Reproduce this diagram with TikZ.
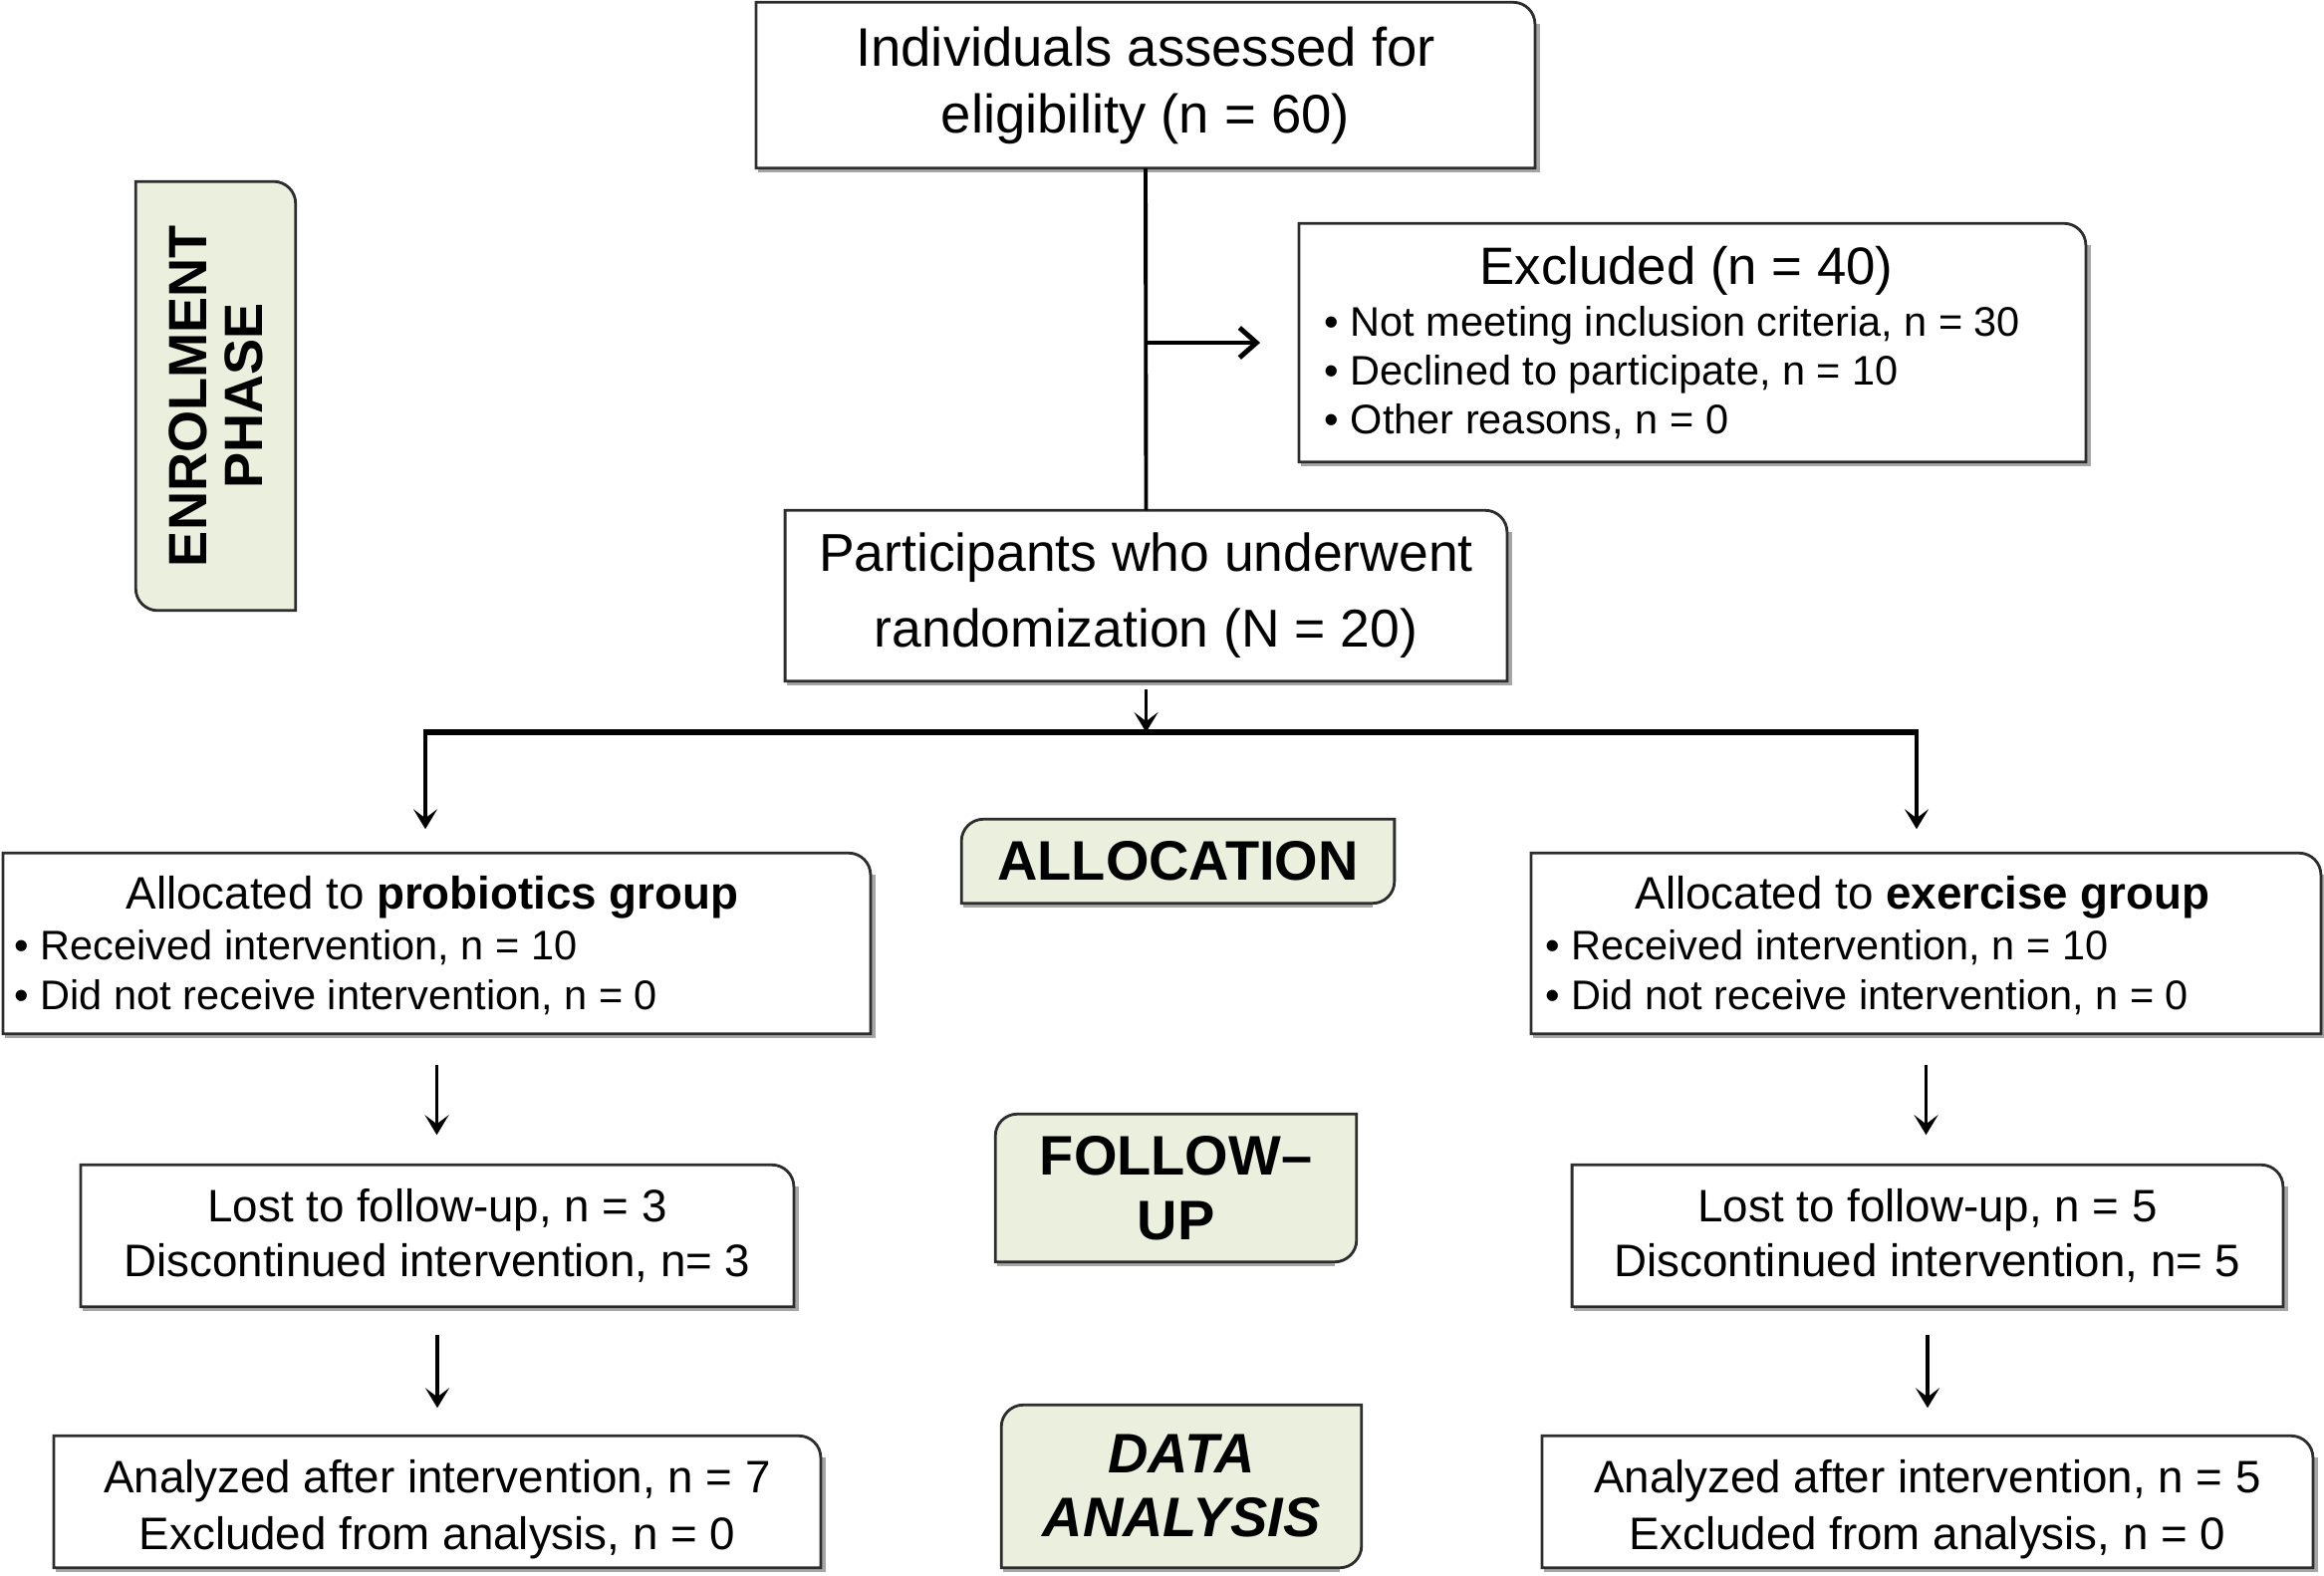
\documentclass[tikz,border=0pt]{standalone}
\usepackage{fontspec}
\setmainfont{Liberation Sans}
\usetikzlibrary{arrows.meta,calc,backgrounds}
\definecolor{phasefill}{RGB}{235,239,222}
\definecolor{linec}{RGB}{45,45,45}
\newcommand{\cornR}{0.22cm}
\newcommand{\fTop}{\fontsize{15.5}{19}\selectfont}
\newcommand{\fPart}{\fontsize{15.2}{21.6}\selectfont}
\newcommand{\fHead}{\fontsize{15}{18}\selectfont}
\newcommand{\fMid}{\fontsize{13}{15.6}\selectfont}
\newcommand{\fAna}{\fontsize{13}{16.2}\selectfont}
\newcommand{\fSm}{\fontsize{11.8}{14}\selectfont}
\newcommand{\fPh}{\fontsize{15.9}{18.6}\bfseries\selectfont}
\newcommand{\fPhI}{\fontsize{15.9}{18.2}\bfseries\itshape\selectfont}
\newcommand{\fEn}{\fontsize{15.4}{16}\bfseries\selectfont}
\newcommand{\shadowL}[1]{%
  \draw[shadowline] ([xshift=0.02cm,yshift=-0.03cm]#1.south west) -- ([xshift=0.03cm,yshift=-0.03cm]#1.south east)
    -- ([xshift=0.03cm,yshift=-\cornR]#1.north east);}
\newcommand{\shadowP}[1]{%
  \draw[shadowline] ([xshift=0.02cm,yshift=-0.03cm]#1.south west) -- ([xshift=-\cornR,yshift=-0.03cm]#1.south east);}
\newcommand{\outlineTR}[1]{%
  \draw[boxline] (#1.south west) -- (#1.north west) -- ([xshift=-\cornR]#1.north east)
    arc[start angle=90,end angle=0,radius=\cornR] -- (#1.south east) -- cycle;}
\newcommand{\outlinePhase}[1]{%
  \filldraw[phaseline] ([yshift=-\cornR]#1.north west) arc[start angle=180,end angle=90,radius=\cornR]
    -- (#1.north east) -- ([yshift=\cornR]#1.south east) arc[start angle=0,end angle=-90,radius=\cornR]
    -- (#1.south west) -- cycle;}
\newcommand{\outlineEnrol}[1]{%
  \filldraw[phaseline] (#1.north west) -- ([xshift=-\cornR]#1.north east)
    arc[start angle=90,end angle=0,radius=\cornR] -- (#1.south east) -- ([xshift=\cornR]#1.south west)
    arc[start angle=270,end angle=180,radius=\cornR] -- cycle;}
\begin{document}
\begin{tikzpicture}[x=0.01cm,y=0.01cm,
  boxline/.style={draw=linec,line width=0.8pt},
  shadowline/.style={draw=black!35,line width=0.9pt},
  phaseline/.style={draw=linec,fill=phasefill,line width=0.8pt},
  box/.style={inner sep=0pt,align=center},
  txt/.style={inner sep=0pt},
  conn/.style={draw=black,line width=1.1pt},
  arr/.style={conn,-{Stealth[length=0.2cm,width=0.24cm,inset=0.09cm]}},
]
\useasboundingbox (0,0) rectangle (2333,-1581);

% main boxes
\node[box,font=\fTop,minimum width=7.8cm,minimum height=1.65cm] (top) at (1150,-85.5)
  {Individuals assessed for\\eligibility (n = 60)};
\node[box,minimum width=7.88cm,minimum height=2.38cm] (excl) at (1699,-344) {};
\node[box,font=\fPart,minimum width=7.23cm,minimum height=1.7cm] (part) at (1150.5,-598)
  {Participants who underwent\\randomization (N = 20)};
\node[box,minimum width=8.69cm,minimum height=1.8cm] (prob) at (438.5,-947) {};
\node[box,minimum width=7.91cm,minimum height=1.8cm] (exer) at (1933.5,-947) {};
\node[box,font=\fMid,minimum width=7.14cm,minimum height=1.41cm] (lostL) at (439,-1240.5)
  {Lost to follow-up, n = 3\\Discontinued intervention, n= 3};
\node[box,font=\fMid,minimum width=7.12cm,minimum height=1.41cm] (lostR) at (1935,-1240.5)
  {Lost to follow-up, n = 5\\Discontinued intervention, n= 5};
\node[box,minimum width=7.68cm,minimum height=1.31cm] (anaL) at (439,-1507.5) {};
\node[box,minimum width=7.72cm,minimum height=1.31cm] (anaR) at (1935,-1507.5) {};
\node[box,font=\fAna] (anaLtxt) at ([yshift=-0.08cm]anaL.center)
  {Analyzed after intervention, n = 7\\Excluded from analysis, n = 0};
\node[box,font=\fAna] (anaRtxt) at ([yshift=-0.08cm]anaR.center)
  {Analyzed after intervention, n = 5\\Excluded from analysis, n = 0};

% phase boxes
\node[box,minimum width=1.59cm,minimum height=4.29cm] (enrol) at (216.5,-397.5) {};
\node[box,font=\fPh,minimum width=4.33cm,minimum height=0.83cm] (alloc) at (1182.5,-864.5) {ALLOCATION};
\node[box,font=\fPh,minimum width=3.61cm,minimum height=1.47cm] (follow) at (1180.5,-1192.5) {FOLLOW–\\UP};
\node[box,font=\fPhI,minimum width=3.6cm,minimum height=1.62cm] (data) at (1186,-1492) {DATA\\ANALYSIS};

\begin{scope}[on background layer]
  \foreach \b in {top,excl,part,prob,exer,lostL,lostR,anaL,anaR} {\shadowL{\b}}
  \foreach \b in {alloc,follow,data} {\shadowP{\b}}
  \outlineEnrol{enrol}
  \outlinePhase{alloc}
  \outlinePhase{follow}
  \outlinePhase{data}
\end{scope}
\node[txt,font=\fEn,align=center,rotate=90] (enroltxt) at (enrol.center) {ENROLMENT\\PHASE};

\outlineTR{top}
\outlineTR{excl}
\outlineTR{part}
\outlineTR{prob}
\outlineTR{exer}
\outlineTR{lostL}
\outlineTR{lostR}
\outlineTR{anaL}
\outlineTR{anaR}

% multi-part texts
\node[txt,anchor=base,font=\fHead] (exclh) at (1693,-285) {Excluded (n = 40)};
\node[txt,anchor=base west,font=\fSm] (excl1) at (1329,-337) {• Not meeting inclusion criteria, n = 30};
\node[txt,anchor=base west,font=\fSm] (excl2) at (1329,-386) {• Declined to participate, n = 10};
\node[txt,anchor=base west,font=\fSm] (excl3) at (1329,-435) {• Other reasons, n = 0};

\node[txt,anchor=base,font=\fMid] (probh) at (434,-912) {Allocated to \textbf{probiotics group}};
\node[txt,anchor=base west,font=\fSm] (prob1) at (14,-963) {• Received intervention, n = 10};
\node[txt,anchor=base west,font=\fSm] (prob2) at (14,-1013) {• Did not receive intervention, n = 0};

\node[txt,anchor=base,font=\fMid] (exerh) at (1930,-912) {Allocated to \textbf{exercise group}};
\node[txt,anchor=base west,font=\fSm] (exer1) at (1551,-963) {• Received intervention, n = 10};
\node[txt,anchor=base west,font=\fSm] (exer2) at (1551,-1013) {• Did not receive intervention, n = 0};

% connectors
\draw[conn] (top.south) -- (part.north);
\coordinate (j1) at (top.south |- excl.west);
\draw[conn,line width=1.4pt,-{Straight Barb[length=0.17cm,width=0.3cm]}] (j1) -- ([xshift=-0.39cm]excl.west);
\coordinate (bl) at (427,-735);
\coordinate (bm) at (1150.5,-735);
\coordinate (brr) at (1924,-735);
\draw[arr,shorten <=0.08cm] (part.south) -- (bm);
\draw[draw=black,line width=1.9pt] (bl) -- (brr);
\draw[arr,shorten >=0.24cm] ([yshift=0.03cm]bl) -- (bl |- prob.north);
\draw[arr,shorten >=0.24cm] ([yshift=0.03cm]brr) -- (brr |- exer.north);
\draw[arr,shorten <=0.31cm,shorten >=0.3cm] (prob.south) -- (prob.south |- lostL.north);
\draw[arr,shorten <=0.31cm,shorten >=0.3cm] (exer.south) -- (exer.south |- lostR.north);
\draw[arr,shorten <=0.28cm,shorten >=0.28cm] (lostL.south) -- (lostL.south |- anaL.north);
\draw[arr,shorten <=0.28cm,shorten >=0.28cm] (lostR.south) -- (lostR.south |- anaR.north);
\end{tikzpicture}
\end{document}
